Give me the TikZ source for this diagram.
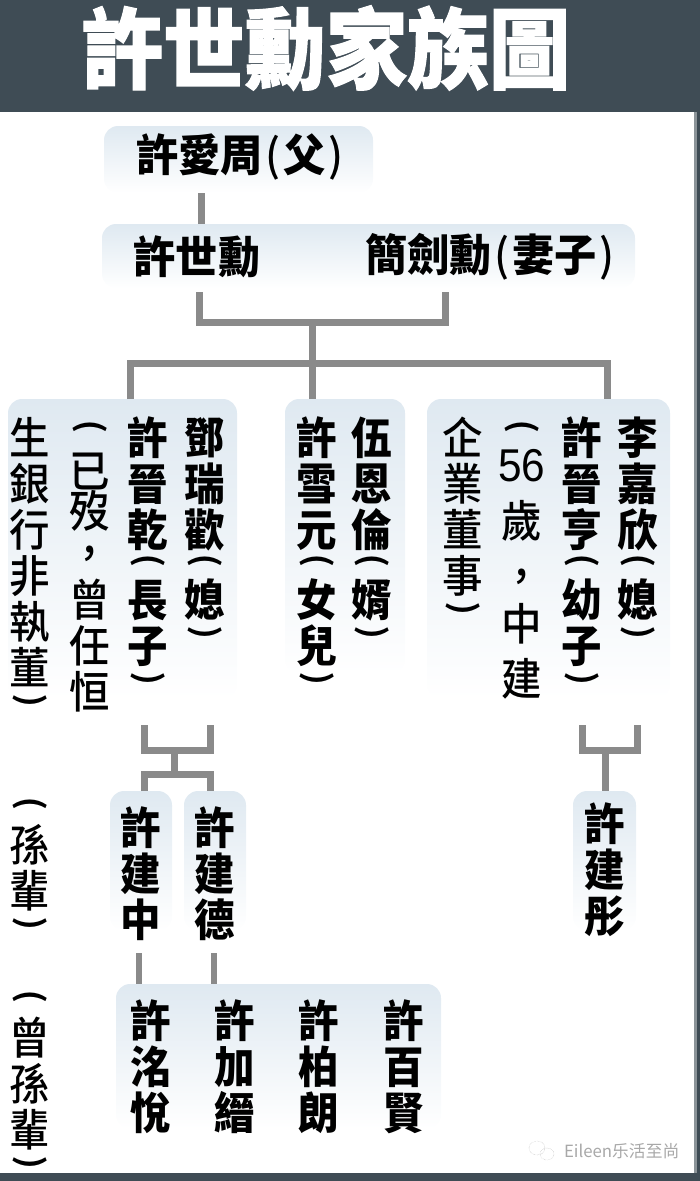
\documentclass[tikz,border=0pt]{standalone}
\usepackage{fontspec}
\setmainfont{Liberation Sans}
\newfontfamily\cjkheavy{Noto Sans CJK TC Black}
\newfontfamily\cjktitle[FakeBold=1.4]{Noto Sans CJK TC Black}
\newfontfamily\cjkplain{Noto Sans CJK TC Medium}
\newfontfamily\cjkarc{Noto Sans CJK TC Bold}
\newfontfamily\marksc{Noto Sans CJK SC}
\usetikzlibrary{positioning}

\definecolor{bandslate}{HTML}{3F4C55}
\definecolor{panelblue}{HTML}{DFE9F1}
\definecolor{linkgray}{HTML}{8A8A8A}
\definecolor{markgray}{HTML}{A8A8A8}

% parentheses of a vertical column sit tight against their neighbours
\newcommand{\arcopen}{{\cjkarc\fontsize{36}{36}\selectfont\rotatebox{90}{)}}}
\newcommand{\arcclose}{{\cjkarc\fontsize{36}{36}\selectfont\rotatebox{90}{(}}}
\newcommand{\opn}{\\[-25pt]\arcopen\\[3pt]}
\newcommand{\cls}{\\[-23pt]\arcclose}
\newcommand{\rowparen}[1]{{\cjkplain\hspace{3pt}#1\hspace{3pt}}}

\begin{document}
\begin{tikzpicture}[
    x=1pt, y=-1pt,
    every node/.style = {inner sep=0pt, outer sep=0pt},
    panel/.style = {
        rectangle,
        rounded corners=14pt,
        anchor=north west,
        top color=panelblue,
        bottom color=white
    },
    heavy/.style = {
        font=\cjkheavy\fontsize{44}{46}\selectfont,
        anchor=north,
        align=center,
        xscale=.92,
        transform shape
    },
    plain/.style = {
        font=\cjkplain\fontsize{44}{46}\selectfont,
        anchor=north,
        align=center,
        xscale=.92,
        transform shape
    },
    wide/.style = {
        font=\cjkheavy\fontsize{44}{46}\selectfont,
        anchor=center,
        xscale=.96,
        transform shape
    },
    link/.style = {
        draw=linkgray,
        line width=7pt,
        line join=miter
    }
]

\useasboundingbox (0,0) rectangle (700,1181);

% frame
\fill[bandslate] (0,0) rectangle (700,112);
\fill[bandslate] (0,1173) rectangle (700,1181);
\fill[bandslate!60] (694,112) rectangle (697,1173);
\fill[bandslate] (697,112) rectangle (700,1173);

\node[font=\cjktitle\fontsize{88}{88}\selectfont, text=white, xscale=.925, transform shape] (title) at (326,48) {許世勳家族圖};

% panels
\node[panel, minimum width=269pt, minimum height=67pt] (fatherbox) at (104,126) {};
\node[panel, minimum width=533pt, minimum height=64pt] (couplebox) at (102,224) {};
\node[panel, minimum width=229pt, minimum height=300pt] (eldestbox) at (8,399) {};
\node[panel, minimum width=120pt, minimum height=275pt] (daughterbox) at (285,399) {};
\node[panel, minimum width=243pt, minimum height=300pt] (youngestbox) at (427,399) {};
\node[panel, minimum width=62pt, minimum height=140pt] (jianzhongbox) at (110,791) {};
\node[panel, minimum width=62pt, minimum height=140pt] (jiandebox) at (184,791) {};
\node[panel, minimum width=63pt, minimum height=140pt] (jiantongbox) at (573,791) {};
\node[panel, minimum width=325pt, minimum height=145pt] (greatbox) at (116,984) {};

% first rows
\node[wide] (father) at (240,157) {許愛周\rowparen{(}父\rowparen{)}};
\node[wide] (husband) at (197,257) {許世勳};
\node[wide] (wife) at (490,257) {簡劍勳\rowparen{(}妻子\rowparen{)}};

% children
\node[heavy] (dengruihuan) at (205,417) {鄧\\瑞\\歡\opn 媳\cls};
\node[heavy] (jinqian) at (148,417) {許\\晉\\乾\opn 長\\子\cls};
\node[plain] (jinqiannote) at (90,420) {\arcopen\\[8pt]已\\[-6pt]歿\\[-4pt]，\\[1pt]曾\\任\\恒};
\node[plain] (jinqiannotetwo) at (30,417) {生\\銀\\行\\非\\執\\董\cls};
\node[heavy] (xueyuan) at (317,417) {許\\雪\\元\opn 女\\兒\cls};
\node[heavy] (wuenlun) at (372,417) {伍\\恩\\倫\opn 婿\cls};
\node[heavy] (lijiaxin) at (638,417) {李\\嘉\\欣\opn 媳\cls};
\node[heavy] (jinheng) at (582,417) {許\\晉\\亨\opn 幼\\子\cls};
\node[plain] (jinhengnote) at (522,420) {\arcopen\\[2pt]{\rmfamily\fontsize{46}{46}\selectfont 56}\\[10pt]歲\\[9pt]，\\[2pt]中\\[9pt]建};
\node[plain] (jinhengnotetwo) at (463,417) {企\\業\\董\\事\cls};

% grandchildren
\node[plain] (sunbei) at (30,797) {\arcopen\\[5pt]孫\\輩\cls};
\node[heavy] (jianzhong) at (141,807) {許\\建\\中};
\node[heavy] (jiande) at (215,807) {許\\建\\德};
\node[heavy] (jiantong) at (605,803) {許\\建\\彤};

% great-grandchildren
\node[plain] (zengsunbei) at (30,990) {\arcopen\\[5pt]曾\\孫\\輩\cls};
\node[heavy] (mingyue) at (151,1000) {許\\洺\\悅};
\node[heavy] (jiajin) at (235,1000) {許\\加\\縉};
\node[heavy] (bolang) at (319,1000) {許\\柏\\朗};
\node[heavy] (baixian) at (404,1000) {許\\百\\賢};

% connector ends
\coordinate (fatherdrop) at (201,193);
\coordinate (husbanddrop) at (199,292);
\coordinate (wifedrop) at (445,292);
\coordinate (parentjoin) at (312,322);
\coordinate (childbus) at (312,363);
\coordinate (eldestdrop) at (130,399);
\coordinate (youngestdrop) at (607,399);
\coordinate (jqleft) at (144,725);
\coordinate (jqright) at (210,725);
\coordinate (jqjoin) at (174,750);
\coordinate (jqbus) at (174,774);
\coordinate (jhleft) at (582,725);
\coordinate (jhright) at (637,725);
\coordinate (jhjoin) at (605,750);
\coordinate (zhongdrop) at (139,953);
\coordinate (dedrop) at (214,953);

\draw[link] (fatherdrop) -- (couplebox.north -| fatherdrop);
\draw[link] (husbanddrop) |- (parentjoin) -| (wifedrop);
\draw[link] (parentjoin) -- (daughterbox.north -| parentjoin);
\draw[link] (eldestdrop) |- (childbus) -| (youngestdrop);
\draw[link] (jqleft) |- (jqjoin) -| (jqright);
\draw[link] (jqjoin) -- (jqbus);
\draw[link] (jianzhongbox.north -| jqleft) |- (jqbus) -| (jiandebox.north -| jqright);
\draw[link] (jhleft) |- (jhjoin) -| (jhright);
\draw[link] (jhjoin) -- (jiantongbox.north -| jhjoin);
\draw[link, line width=6pt] (zhongdrop) -- (greatbox.north -| zhongdrop);
\draw[link, line width=6pt] (dedrop) -- (greatbox.north -| dedrop);

% watermark
\node[font=\marksc\fontsize{16.8}{18}\selectfont, text=markgray, anchor=west] (mark) at (564,1151) {Eileen乐活至尚};
\draw[markgray, densely dotted, thin] (537,1148) ellipse (8 and 7);
\draw[markgray, densely dotted, thin] (547,1154) ellipse (7 and 6);

\end{tikzpicture}
\end{document}
